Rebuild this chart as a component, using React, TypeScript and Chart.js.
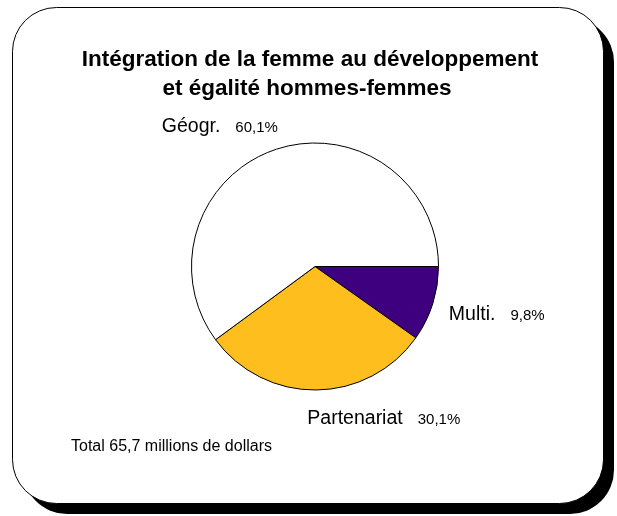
import React, { useEffect, useRef } from "react";
import { Chart, registerables } from "chart.js";

Chart.register(...registerables);

const categories = ["Multi.", "Partenariat", "Géogr."];
const shares = [9.8, 30.1, 60.1];
const sliceColors = ["#3F0080", "#FDBE1E", "#FFFFFF"];
const titleLines = ["Intégration de la femme au développement", "et égalité hommes-femmes"];
const footerText = "Total 65,7 millions de dollars";

const FONT = "'Liberation Sans', Arial, sans-serif";

function roundRect(ctx: CanvasRenderingContext2D, x: number, y: number, w: number, h: number, r: number) {
  ctx.beginPath();
  ctx.moveTo(x + r, y);
  ctx.lineTo(x + w - r, y);
  ctx.arcTo(x + w, y, x + w, y + r, r);
  ctx.lineTo(x + w, y + h - r);
  ctx.arcTo(x + w, y + h, x + w - r, y + h, r);
  ctx.lineTo(x + r, y + h);
  ctx.arcTo(x, y + h, x, y + h - r, r);
  ctx.lineTo(x, y + r);
  ctx.arcTo(x, y, x + r, y, r);
  ctx.closePath();
}

const framePlugin = {
  id: "frame",
  beforeDraw(chart: any) {
    const ctx = chart.ctx as CanvasRenderingContext2D;
    ctx.save();
    ctx.fillStyle = "#ffffff";
    ctx.fillRect(0, 0, chart.width, chart.height);
    // shadow
    roundRect(ctx, 23, 18, 591, 496, 44);
    ctx.fillStyle = "#000000";
    ctx.fill();
    // frame
    roundRect(ctx, 12.5, 7.5, 591, 496, 44);
    ctx.fillStyle = "#ffffff";
    ctx.fill();
    ctx.lineWidth = 1;
    ctx.strokeStyle = "#000000";
    ctx.stroke();
    ctx.restore();
  },
};

// per-slice label placement tweaks (layout only)
const labelPlacement = [
  { align: "left", dx: -1, dy: 10.5 },
  { align: "left", dx: -9, dy: 16.5 },
  { align: "right", dx: 7, dy: 0 },
];

const textPlugin = {
  id: "texts",
  afterDraw(chart: any) {
    const ctx = chart.ctx as CanvasRenderingContext2D;
    ctx.save();
    ctx.fillStyle = "#000000";
    ctx.textBaseline = "alphabetic";
    // title
    ctx.font = `bold 22.5px ${FONT}`;
    ctx.textAlign = "center";
    ctx.fillText(titleLines[0], 310, 66);
    ctx.fillText(titleLines[1], 307, 95);
    // footer
    ctx.font = `16px ${FONT}`;
    ctx.textAlign = "left";
    ctx.fillText(footerText, 71, 451);
    // slice labels
    const meta = chart.getDatasetMeta(0);
    const values = chart.data.datasets[0].data as number[];
    meta.data.forEach((arc: any, i: number) => {
      const p = arc.getProps(["x", "y", "startAngle", "endAngle", "outerRadius"], true);
      const mid = (p.startAngle + p.endAngle) / 2;
      const r = p.outerRadius + 18;
      const ax = p.x + Math.cos(mid) * r;
      const ay = p.y + Math.sin(mid) * r;
      const name = chart.data.labels[i] as string;
      const pct = values[i].toFixed(1).replace(".", ",") + "%";
      ctx.font = `19.5px ${FONT}`;
      const wName = ctx.measureText(name).width;
      ctx.font = `15px ${FONT}`;
      const wPct = ctx.measureText(pct).width;
      const gap = 15;
      const total = wName + gap + wPct;
      const pl = labelPlacement[i];
      let x0 = ax + pl.dx;
      if (pl.align === "right") x0 = ax + pl.dx - total;
      const y0 = ay + pl.dy;
      ctx.textAlign = "left";
      ctx.font = `19.5px ${FONT}`;
      ctx.fillText(name, x0, y0);
      ctx.font = `15px ${FONT}`;
      ctx.fillText(pct, x0 + wName + gap, y0);
    });
    ctx.restore();
  },
};

export default function App() {
  const canvasRef = useRef<HTMLCanvasElement | null>(null);

  useEffect(() => {
    if (!canvasRef.current) return;
    const chart = new Chart(canvasRef.current, {
      type: "pie",
      data: {
        labels: categories,
        datasets: [
          {
            data: shares,
            backgroundColor: sliceColors,
            borderColor: "#000000",
            borderWidth: 1,
          },
        ],
      },
      options: {
        animation: false,
        responsive: false,
        devicePixelRatio: 1,
        rotation: 90,
        layout: {
          padding: { left: 191, right: 178, top: 142.5, bottom: 125.5 },
        },
        plugins: {
          legend: { display: false },
          tooltip: { enabled: false },
          title: { display: false },
        },
      },
      plugins: [framePlugin, textPlugin],
    });
    return () => chart.destroy();
  }, []);

  return (
    <div style={{ position: "fixed", left: 0, top: 0, width: 617, height: 516 }}>
      <canvas ref={canvasRef} width={617} height={516} style={{ display: "block" }} />
    </div>
  );
}
